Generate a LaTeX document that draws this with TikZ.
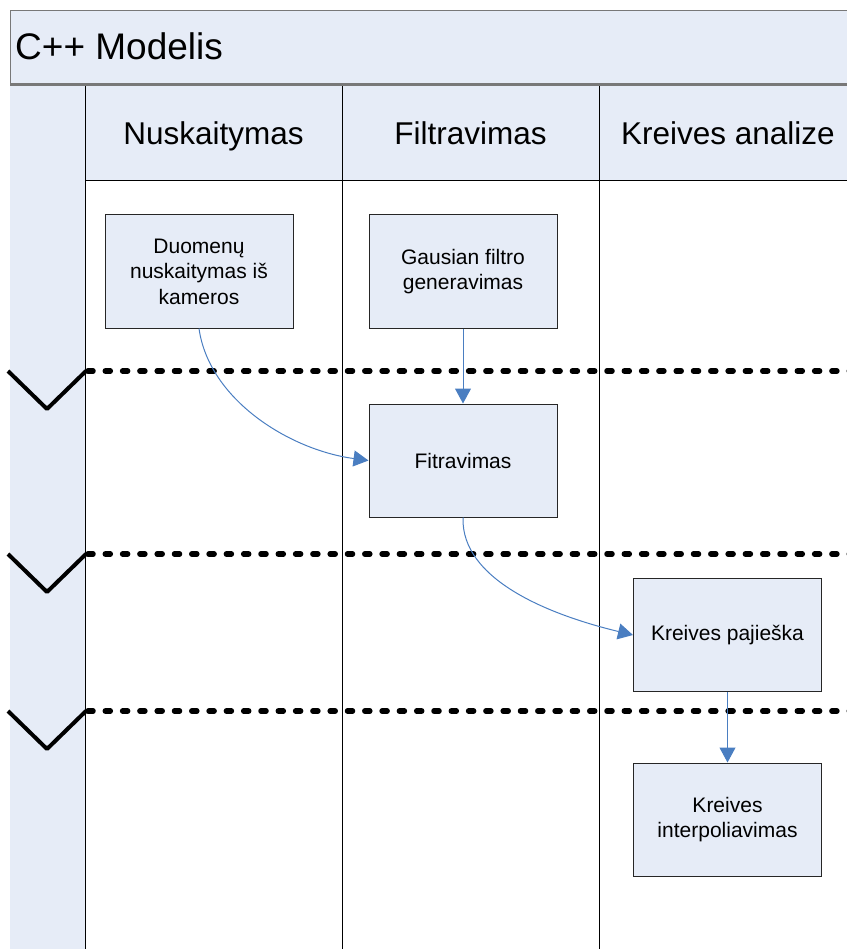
\documentclass[tikz,border=0pt]{standalone}
\usepackage{fontspec}
\setmainfont{Liberation Sans}
\usetikzlibrary{arrows.meta}

\definecolor{paneblue}{RGB}{230,236,247}
\definecolor{flowblue}{RGB}{74,126,193}
\definecolor{framegray}{RGB}{120,120,120}

\begin{document}
\begin{tikzpicture}[x=1pt,y=-1pt,
  taskbox/.style={draw=black!85, line width=1pt, fill=paneblue,
    minimum width=188pt, minimum height=113pt, inner sep=0pt,
    align=center, font=\fontsize{21}{25.5}\selectfont,
    append after command={[draw=black!45, line width=1.2pt]
      (\tikzlastnode.south west) ++(0.5,1.3) -- ([yshift=-1.3pt,xshift=-0.5pt]\tikzlastnode.south east)}},
  lanehead/.style={anchor=base, inner sep=0pt, font=\fontsize{31.5}{36}\selectfont},
  flow/.style={draw=flowblue, line width=1pt, -{Triangle[length=15pt,width=16pt,fill=flowblue]}},
  phaseline/.style={line width=5.5pt, line cap=round, dash pattern=on 5pt off 12.3pt},
  chevron/.style={line width=4pt, line join=round},
  laneline/.style={draw=black, line width=1pt}
]
\useasboundingbox (0,0) rectangle (846,949);

% pool title band
\fill[paneblue] (10,11) rectangle (860,85);
\draw[framegray, line width=1pt] (860,11) -- (10,11) -- (10,949);
\node[anchor=base west, inner sep=0pt, font=\fontsize{37}{44}\selectfont] (title) at (15,60) {C++ Modelis};

% phase strip on the left and the lane header row
\fill[paneblue] (10,85) rectangle (85,949);
\fill[paneblue] (85,85) rectangle (860,181);
\draw[laneline] (85,181) -- (860,181);
\draw[laneline] (85,85) -- (85,949);
\draw[laneline] (342,85) -- (342,949);
\draw[laneline] (599,85) -- (599,949);
\draw[framegray, line width=3pt] (10,85) -- (860,85);

\node[lanehead] (laneA) at (213.5,145) {Nuskaitymas};
\node[lanehead] (laneB) at (470.5,145) {Filtravimas};
\node[lanehead] (laneC) at (728,145) {Kreives analize};

% phase separators
\foreach \yy in {371,554,711}{
  \draw[phaseline] (88,\yy) -- (850,\yy);
  \draw[chevron] (8,\yy) -- (47,\yy+38) -- (86,\yy);
}

% tasks
\node[taskbox] (read)   at (199,271.5)   {Duomenų\\nuskaitymas iš\\kameros};
\node[taskbox] (gauss)  at (463,271.5)   {Gausian filtro\\generavimas};
\node[taskbox] (filt)   at (463,460.5)   {Fitravimas};
\node[taskbox] (search) at (727.5,635)   {Kreives pajieška};
\node[taskbox] (interp) at (727.5,819.5) {Kreives\\interpoliavimas};

% flows
\draw[flow] (read.south) .. controls (209,400) and (290,450) .. (filt.west);
\draw[flow] (gauss) -- (filt);
\draw[flow] (filt.south) .. controls (461,580) and (550,615) .. (search.west);
\draw[flow] (search) -- (interp);
\end{tikzpicture}
\end{document}
